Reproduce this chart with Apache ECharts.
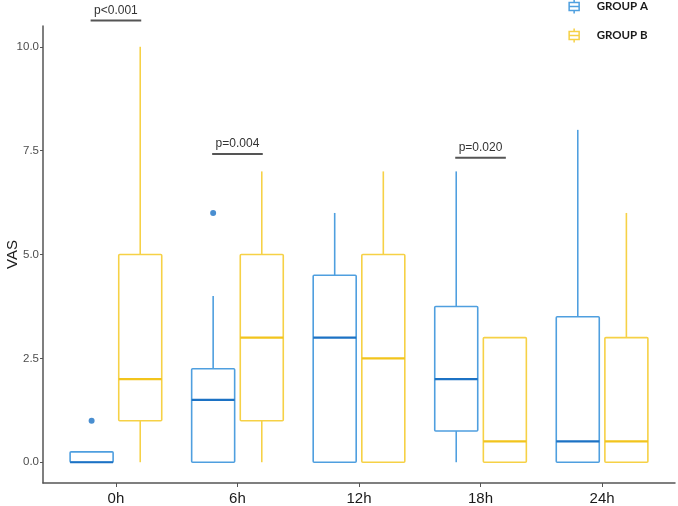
<!DOCTYPE html>
<html>
<head>
<meta charset="utf-8">
<script src="https://cdn.jsdelivr.net/npm/echarts@6/dist/echarts.min.js"></script>
<style>html,body{margin:0;padding:0;background:#fff;}#c{width:678px;height:506px;}</style>
</head>
<body>
<div id="c"></div>
<script>
// ---- data ----
var categories = ['0h', '6h', '12h', '18h', '24h'];
// [min, Q1, median, Q3, max]
var groupA = [
  [0, 0, 0, 0.25, 0.25],
  [0, 0, 1.5, 2.25, 4],
  [0, 0, 3, 4.5, 6],
  [0, 0.75, 2, 3.75, 7],
  [0, 0, 0.5, 3.5, 8]
];
var groupB = [
  [0, 1, 2, 5, 10],
  [0, 1, 3, 5, 7],
  [0, 0, 2.5, 5, 7],
  [0, 0, 0.5, 3, 3],
  [0, 0, 0.5, 3, 6]
];
// outliers: [categoryIndex, value]
var outliersA = [[0, 1], [1, 6]];
// significance: [categoryIndex, bracket y, label]
var pValues = [[0, 10.63, 'p<0.001'], [1, 7.42, 'p=0.004'], [3, 7.33, 'p=0.020']];
var yTicks = [0, 2.5, 5, 7.5, 10];

var OFF = 0.2;
var BOXW = 43;
var blue = '#4f9fdf', blueDark = '#1c72c4';
var yellow = '#f6d146', yellowDark = '#f2c41c';

function boxData(arr, sign) {
  return arr.map(function (d, i) { return [i + 1 + sign * OFF].concat(d); });
}
function boxSeries(name, arr, sign, color, medColor) {
  return {
    name: name, type: 'custom', silent: true, z: 3,
    itemStyle: { color: color },
    encode: { x: 0, y: [1, 2, 3, 4, 5] },
    data: boxData(arr, sign),
    renderItem: function (params, api) {
      var x = api.value(0);
      var pMin = api.coord([x, api.value(1)]);
      var pQ1 = api.coord([x, api.value(2)]);
      var pMed = api.coord([x, api.value(3)]);
      var pQ3 = api.coord([x, api.value(4)]);
      var pMax = api.coord([x, api.value(5)]);
      var cx = pMed[0], h = BOXW / 2;
      var children = [];
      if (Math.abs(pMax[1] - pQ3[1]) > 0.5) {
        children.push({ type: 'line', shape: { x1: cx, y1: pMax[1], x2: cx, y2: pQ3[1] }, style: { stroke: color, lineWidth: 1.6 } });
      }
      if (Math.abs(pMin[1] - pQ1[1]) > 0.5) {
        children.push({ type: 'line', shape: { x1: cx, y1: pQ1[1], x2: cx, y2: pMin[1] }, style: { stroke: color, lineWidth: 1.6 } });
      }
      children.push({ type: 'rect', shape: { x: cx - h, y: pQ3[1], width: BOXW, height: pQ1[1] - pQ3[1], r: 1 },
        style: { fill: '#fff', stroke: color, lineWidth: 1.6 } });
      children.push({ type: 'line', shape: { x1: cx - h, y1: pMed[1], x2: cx + h, y2: pMed[1] },
        style: { stroke: medColor, lineWidth: 2.2 } });
      return { type: 'group', children: children };
    }
  };
}

var chart = echarts.init(document.getElementById('c'), null, { renderer: 'canvas' });
var iconPath = 'path://M5,0V3 M0,3H10V11H0Z M0,7H10 M5,11V14';
chart.setOption({
  animation: false,
  backgroundColor: '#fff',
  grid: { left: 43, right: 3, top: 26, bottom: 23, containLabel: false, outerBoundsMode: 'none' },
  legend: {
    orient: 'vertical', right: 25, top: -8, itemGap: 10, itemWidth: 11, itemHeight: 14,
    textStyle: { fontFamily: 'Lato', fontWeight: 'bold', fontSize: 11.5, color: '#1a1a1a', padding: [0, 0, 0, 12] },
    data: [
      { name: 'GROUP A', icon: iconPath, itemStyle: { color: 'none', borderColor: blue, borderWidth: 1.5 } },
      { name: 'GROUP B', icon: iconPath, itemStyle: { color: 'none', borderColor: yellow, borderWidth: 1.5 } }
    ]
  },
  xAxis: {
    type: 'value', min: 0.4, max: 5.6, splitLine: { show: false },
    axisLine: { show: true, onZero: false, lineStyle: { color: '#555', width: 1.5 } },
    axisTick: { show: true, length: 4, customValues: [1, 2, 3, 4, 5], lineStyle: { color: '#555' } },
    axisLabel: {
      customValues: [1, 2, 3, 4, 5], margin: 8,
      fontFamily: 'Liberation Sans', fontSize: 15, color: '#1a1a1a',
      formatter: function (v) { return categories[Math.round(v) - 1]; }
    }
  },
  yAxis: {
    type: 'value', min: -0.5, max: 10.5,
    name: 'VAS', nameLocation: 'middle', nameGap: 23, nameMoveOverlap: false,
    nameTextStyle: { fontFamily: 'Liberation Sans', fontSize: 15, color: '#1a1a1a' },
    splitLine: { show: false },
    axisLine: { show: true, onZero: false, lineStyle: { color: '#555', width: 1.5 } },
    axisTick: { show: true, length: 3, customValues: yTicks, lineStyle: { color: '#555' } },
    axisLabel: {
      customValues: yTicks, margin: 4,
      fontFamily: 'Liberation Sans', fontSize: 11.5, color: '#4d4d4d',
      formatter: function (v) { return v.toFixed(1); }
    }
  },
  series: [
    boxSeries('GROUP A', groupA, -1, blue, blueDark),
    boxSeries('GROUP B', groupB, 1, yellow, yellowDark),
    {
      name: 'outA', type: 'scatter', symbolSize: 6, z: 4,
      itemStyle: { color: blueDark },
      data: outliersA.map(function (o) { return [o[0] + 1 - OFF, o[1]]; })
    },
    {
      name: 'pvals', type: 'custom', silent: true, clip: false, z: 5,
      encode: { x: [0, 1], y: 2 },
      data: pValues.map(function (p) { return [p[0] + 1 - OFF, p[0] + 1 + OFF, p[1], p[2]]; }),
      renderItem: function (params, api) {
        var a = api.coord([api.value(0), api.value(2)]);
        var b = api.coord([api.value(1), api.value(2)]);
        var txt = pValues[params.dataIndex][2];
        return { type: 'group', children: [
          { type: 'line', shape: { x1: a[0] - 1, y1: a[1], x2: b[0] + 1, y2: b[1] }, style: { stroke: '#555', lineWidth: 2 } },
          { type: 'text', x: (a[0] + b[0]) / 2, y: a[1] - 10,
            style: { text: txt, fontFamily: 'Liberation Sans', fontSize: 12, fill: '#333', align: 'center', verticalAlign: 'middle' } }
        ] };
      }
    }
  ]
});
</script>
</body>
</html>
